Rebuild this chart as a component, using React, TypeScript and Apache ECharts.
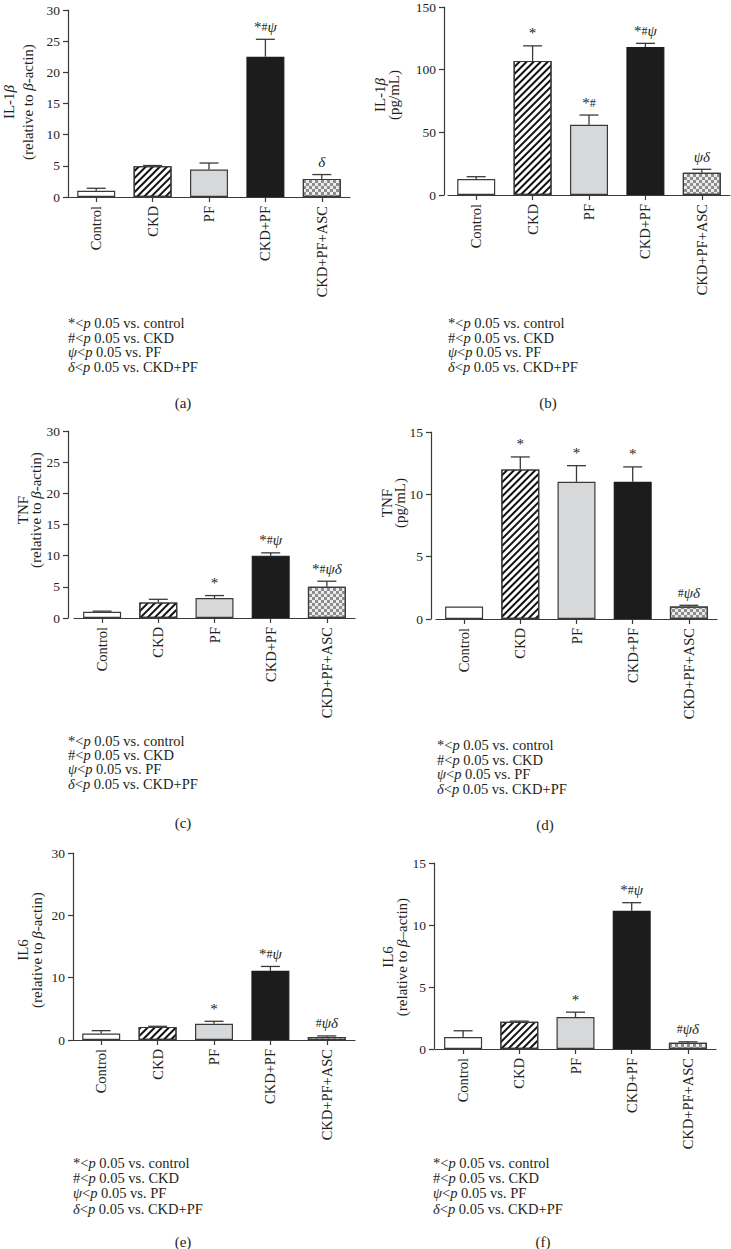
import React, { useEffect, useRef } from 'react';
import * as echarts from 'echarts';

const categories = ['Control', 'CKD', 'PF', 'CKD+PF', 'CKD+PF+ASC'];

// (a) IL-1beta relative to beta-actin
const aMeans = [1.0, 4.95, 4.4, 22.5, 2.9];
const aErrTop = [1.4, 5.05, 5.45, 25.3, 3.6];
const aMarks = ['', '', '', '*#ψ', 'δ'];
const aTicks = { max: 30, interval: 5 };

// (b) IL-1beta pg/mL
const bMeans = [12.8, 107, 56, 118, 17.8];
const bErrTop = [14.6, 119, 63.8, 121, 20.5];
const bMarks = ['', '*', '*#', '*#ψ', 'ψδ'];
const bTicks = { max: 150, interval: 50 };

// (c) TNF relative to beta-actin
const cMeans = [1.0, 2.5, 3.2, 10.0, 5.0];
const cErrTop = [1.1, 3.0, 3.6, 10.45, 5.9];
const cMarks = ['', '', '*', '*#ψ', '*#ψδ'];
const cTicks = { max: 30, interval: 5 };

// (d) TNF pg/mL
const dMeans = [1.0, 12.0, 11.0, 11.0, 1.0];
const dErrTop = [1.0, 13.0, 12.3, 12.2, 1.1];
const dMarks = ['', '*', '*', '*', '#ψδ'];
const dTicks = { max: 15, interval: 5 };

// (e) IL6 relative to beta-actin
const eMeans = [1.05, 2.1, 2.6, 11.1, 0.5];
const eErrTop = [1.5, 2.2, 3.0, 11.8, 0.65];
const eMarks = ['', '', '*', '*#ψ', '#ψδ'];
const eTicks = { max: 30, interval: 10 };

// (f) IL6 relative to beta-actin
const fMeans = [0.97, 2.2, 2.58, 11.14, 0.5];
const fErrTop = [1.47, 2.25, 2.97, 11.8, 0.58];
const fMarks = ['', '', '*', '*#ψ', '#ψδ'];
const fTicks = { max: 15, interval: 5 };

const legendLines = [
  '{t|*<}{i|p}{t| 0.05 vs. control}',
  '{t|#<}{i|p}{t| 0.05 vs. CKD}',
  '{i|ψ}{t|<}{i|p}{t| 0.05 vs. PF}',
  '{i|δ}{t|<}{i|p}{t| 0.05 vs. CKD+PF}',
];

const SERIF = '"Liberation Serif", "DejaVu Serif", "Times New Roman", serif';
const AX = '#3a3a3a';
const TXT = '#231f20';

const barStyles = [
  { color: '#ffffff', borderColor: AX, borderWidth: 1.2 },
  {
    color: '#ffffff',
    borderColor: AX,
    borderWidth: 1.2,
    decal: {
      symbol: 'rect',
      symbolSize: 1,
      color: '#111111',
      dashArrayX: [1, 0],
      dashArrayY: [1.7, 2.3],
      rotation: -Math.PI / 4,
    },
  },
  { color: '#d6d8da', borderColor: AX, borderWidth: 1.2 },
  { color: '#1c1c1c', borderColor: '#1c1c1c', borderWidth: 1.2 },
  {
    color: '#ececec',
    borderColor: AX,
    borderWidth: 1.2,
    decal: {
      symbol: 'rect',
      symbolSize: 1,
      color: '#8d8d8d',
      dashArrayX: [[3, 3], [0, 3, 3, 0]],
      dashArrayY: [3, 0],
      rotation: 0,
    },
  },
];

const RICH_ANN = {
  t: { fontFamily: SERIF, fontSize: 15, fill: TXT },
  h: { fontFamily: SERIF, fontSize: 12, fill: TXT },
  i: { fontFamily: SERIF, fontSize: 15, fontStyle: 'italic', fill: TXT },
};

const RICH_TXT = {
  t: { fontFamily: SERIF, fontSize: 14.5, fill: TXT },
  i: { fontFamily: SERIF, fontSize: 14.5, fontStyle: 'italic', fill: TXT },
};

function richify(s: string) {
  return s
    .split('')
    .map((ch) => (ch === 'ψ' || ch === 'δ' ? `{i|${ch}}` : ch === '#' ? `{h|#}` : `{t|${ch}}`))
    .join('');
}

const panels = [
  { means: aMeans, err: aErrTop, marks: aMarks, ticks: aTicks, grid: { left: 68, top: 10, width: 282, height: 187 }, offset: 0 },
  { means: bMeans, err: bErrTop, marks: bMarks, ticks: bTicks, grid: { left: 448, top: 7, width: 282, height: 188 }, offset: 4 },
  { means: cMeans, err: cErrTop, marks: cMarks, ticks: cTicks, grid: { left: 74, top: 431, width: 281, height: 187 }, offset: 6 },
  { means: dMeans, err: dErrTop, marks: dMarks, ticks: dTicks, grid: { left: 436, top: 432, width: 281, height: 187 }, offset: 5 },
  { means: eMeans, err: eErrTop, marks: eMarks, ticks: eTicks, grid: { left: 73, top: 853, width: 282, height: 187 }, offset: 0 },
  { means: fMeans, err: fErrTop, marks: fMarks, ticks: fTicks, grid: { left: 435, top: 863, width: 281, height: 186 }, offset: 1 },
];

const yTitles = [
  { x: 18, y: 102, lh: 19, text: '{t|IL-1}{i|β}\n{t|(relative to }{i|β}{t|-actin)}' },
  { x: 387, y: 95, lh: 14, text: '{t|IL-1}{i|β}\n{t|(pg/mL)}' },
  { x: 29, y: 510, lh: 13, text: '{t|TNF}\n{t|(relative to }{i|β}{t|-actin)}' },
  { x: 393, y: 503, lh: 13, text: '{t|TNF}\n{t|(pg/mL)}' },
  { x: 30, y: 950, lh: 14, text: '{t|IL6}\n{t|(relative to }{i|β}{t|-actin)}' },
  { x: 395, y: 957, lh: 14, text: '{t|IL6}\n{t|(relative to }{i|β}{t|–actin)}' },
];

const legends = [
  { x: 68, ys: [323, 338, 352, 367], lx: 183, ly: 403, letter: '(a)' },
  { x: 448, ys: [323, 338, 352, 367], lx: 548, ly: 403, letter: '(b)' },
  { x: 68, ys: [741, 755, 769, 784], lx: 183, ly: 823, letter: '(c)' },
  { x: 437, ys: [745, 760, 774, 789], lx: 545, ly: 825, letter: '(d)' },
  { x: 73, ys: [1163, 1178, 1193, 1209], lx: 183, ly: 1242, letter: '(e)' },
  { x: 433, ys: [1163, 1178, 1193, 1209], lx: 543, ly: 1242, letter: '(f)' },
];

function buildOption() {
  const grid: any[] = [];
  const xAxis: any[] = [];
  const yAxis: any[] = [];
  const series: any[] = [];
  const graphic: any[] = [];

  panels.forEach((p, k) => {
    grid.push({ ...p.grid, containLabel: false, outerBoundsMode: 'none' });
    xAxis.push({
      type: 'category',
      gridIndex: k,
      data: categories,
      axisLine: { show: true, onZero: false, lineStyle: { color: AX, width: 1.2 } },
      axisTick: { show: true, alignWithLabel: true, length: 5, lineStyle: { color: AX, width: 1.2 } },
      axisLabel: { rotate: 90, interval: 0, fontFamily: SERIF, fontSize: 14.5, color: TXT, margin: 9 },
      splitLine: { show: false },
    });
    yAxis.push({
      type: 'value',
      gridIndex: k,
      min: 0,
      max: p.ticks.max,
      interval: p.ticks.interval,
      offset: p.offset,
      axisLine: { show: true, lineStyle: { color: AX, width: 1.2 } },
      axisTick: { show: true, length: 5, lineStyle: { color: AX, width: 1.2 } },
      axisLabel: { fontFamily: SERIF, fontSize: 13.5, color: TXT, margin: 8 },
      splitLine: { show: false },
    });
    series.push({
      type: 'bar',
      xAxisIndex: k,
      yAxisIndex: k,
      barWidth: 38,
      data: p.means.map((v, i) => ({ value: v, itemStyle: barStyles[i] })),
      z: 2,
    });
    const marks = p.marks;
    series.push({
      type: 'custom',
      xAxisIndex: k,
      yAxisIndex: k,
      z: 3,
      encode: { x: 0, y: 1 },
      data: p.means.map((v, i) => [i, v, p.err[i]]),
      renderItem: (params: any, api: any) => {
        const idx = params.dataIndex;
        const cx = api.value(0);
        const top = api.coord([cx, api.value(1)]);
        const et = api.coord([cx, api.value(2)]);
        const children: any[] = [];
        if (api.value(2) > api.value(1)) {
          children.push({
            type: 'line',
            shape: { x1: top[0], y1: top[1], x2: et[0], y2: et[1] },
            style: { stroke: AX, lineWidth: 1.3 },
          });
          children.push({
            type: 'line',
            shape: { x1: et[0] - 9.5, y1: et[1], x2: et[0] + 9.5, y2: et[1] },
            style: { stroke: AX, lineWidth: 1.3 },
          });
        }
        const m = marks[idx];
        if (m) {
          children.push({
            type: 'text',
            x: et[0],
            y: et[1] - 5,
            style: {
              text: richify(m),
              rich: RICH_ANN,
              align: 'center',
              verticalAlign: 'bottom',
              fontFamily: SERIF,
              fontSize: 15,
              fill: TXT,
            },
          });
        }
        return { type: 'group', children };
      },
    });
  });

  yTitles.forEach((t) => {
    const rich: any = {
      t: { ...RICH_TXT.t, fontSize: 15, lineHeight: t.lh },
      i: { ...RICH_TXT.i, fontSize: 15, lineHeight: t.lh },
    };
    graphic.push({
      type: 'text',
      x: t.x,
      y: t.y,
      rotation: Math.PI / 2,
      style: {
        text: t.text,
        rich,
        align: 'center',
        verticalAlign: 'middle',
        fontFamily: SERIF,
        fontSize: 15,
        fill: TXT,
      },
    });
  });

  legends.forEach((l) => {
    legendLines.forEach((line, j) => {
      graphic.push({
        type: 'text',
        x: l.x,
        y: l.ys[j],
        style: {
          text: line,
          rich: RICH_TXT,
          align: 'left',
          verticalAlign: 'middle',
          fontFamily: SERIF,
          fontSize: 14.5,
          fill: TXT,
        },
      });
    });
    graphic.push({
      type: 'text',
      x: l.lx,
      y: l.ly,
      style: {
        text: l.letter,
        align: 'center',
        verticalAlign: 'middle',
        fontFamily: SERIF,
        fontSize: 15,
        fill: TXT,
      },
    });
  });

  return {
    animation: false,
    backgroundColor: '#ffffff',
    textStyle: { fontFamily: SERIF },
    grid,
    xAxis,
    yAxis,
    series,
    graphic,
  };
}

export default function App() {
  const ref = useRef<HTMLDivElement>(null);
  useEffect(() => {
    if (!ref.current) return;
    const chart = echarts.init(ref.current, undefined, { renderer: 'svg' });
    chart.setOption(buildOption() as any);
    return () => chart.dispose();
  }, []);
  return (
    <div
      ref={ref}
      style={{ position: 'absolute', left: 0, top: 0, width: 731, height: 1249, background: '#fff' }}
    />
  );
}
